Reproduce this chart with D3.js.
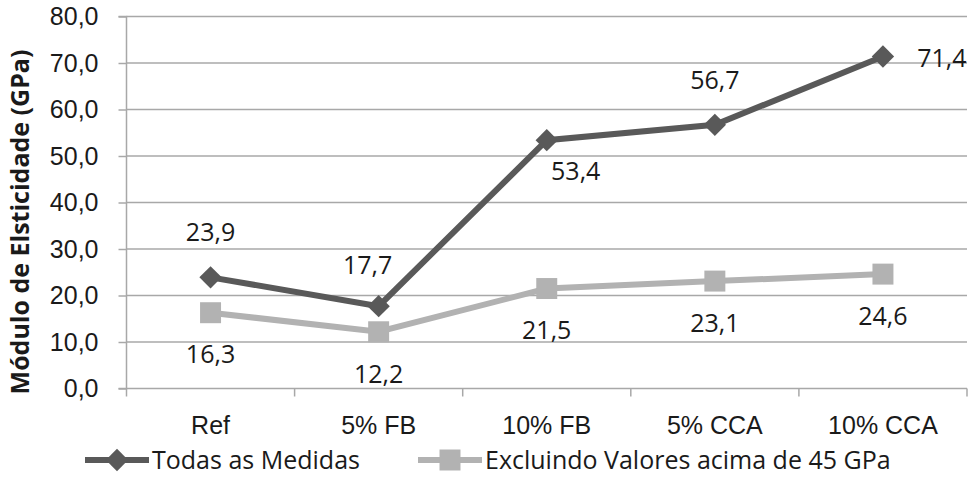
<!DOCTYPE html>
<html>
<head>
<meta charset="utf-8">
<script src="https://cdn.jsdelivr.net/npm/d3@7"></script>
<style>
  body { margin: 0; background: #fff; }
  svg { display: block; font-family: "Open Sans", "Liberation Sans", sans-serif; }
  .tick text { fill: #1a1a1a; }
</style>
</head>
<body>
<div id="chart"></div>
<script>
// categories and series
const categories = ['Ref', '5% FB', '10% FB', '5% CCA', '10% CCA'];
const todasMedidas = [23.9, 17.7, 53.4, 56.7, 71.4];
const excluindo = [16.3, 12.2, 21.5, 23.1, 24.6];
const yTicks = [0, 10, 20, 30, 40, 50, 60, 70, 80];
// where each data label sits relative to its point
const labelTodas = ['above', 'aboveLeft', 'belowRight', 'above', 'right'];
const labelExcl = ['below', 'below', 'below', 'below', 'below'];

const W = 969, H = 478;
const margin = { top: 16.5, right: 2, bottom: 89.5, left: 126.5 };
const width = W - margin.left - margin.right;
const height = H - margin.top - margin.bottom;

const darkColor = '#595959';
const lightColor = '#b2b2b2';
const gridColor = '#a8a8a8';
const textColor = '#1a1a1a';

const svg = d3.select('#chart').append('svg')
    .attr('width', W)
    .attr('height', H);

const g = svg.append('g')
    .attr('transform', `translate(${margin.left},${margin.top})`);

const x = d3.scaleBand().domain(categories).range([0, width]);
const y = d3.scaleLinear().domain([0, 80]).range([height, 0]);

// gridlines
g.selectAll('.grid')
    .data(yTicks.filter(d => d > 0))
    .enter().append('line')
    .attr('class', 'grid')
    .attr('x1', 0).attr('x2', width)
    .attr('y1', d => y(d)).attr('y2', d => y(d))
    .attr('stroke', gridColor)
    .attr('stroke-width', 1.5);

// y axis
const yAxis = g.append('g')
    .call(d3.axisLeft(y).tickValues(yTicks).tickSize(8).tickPadding(20)
        .tickFormat(d => d3.format('.1f')(d).replace('.', ',')));
yAxis.selectAll('text').style('font-size', '25px');

// x axis
const xAxis = g.append('g')
    .attr('transform', `translate(0,${height})`)
    .call(d3.axisBottom(x).tickSize(0).tickPadding(28));
xAxis.selectAll('text').style('font-size', '25px');
xAxis.selectAll('.tick line').remove();
const bounds = categories.map(c => x(c)).concat([width]);
xAxis.selectAll('.bound')
    .data(bounds)
    .enter().append('line')
    .attr('class', 'bound')
    .attr('x1', d => d).attr('x2', d => d)
    .attr('y1', 0).attr('y2', 8)
    .attr('stroke', gridColor)
    .attr('stroke-width', 1.5);

[yAxis, xAxis].forEach(a => {
    a.selectAll('.domain').attr('stroke', gridColor).attr('stroke-width', 1.5);
    a.selectAll('.tick line').attr('stroke', gridColor).attr('stroke-width', 1.5);
});
yAxis.select('.domain').attr('d', `M-8,0H0V${height}H-8`);
xAxis.select('.domain').attr('d', `M0,0H${width}`);

const cx = c => x(c) + x.bandwidth() / 2;

const line = d3.line()
    .x((d, i) => cx(categories[i]))
    .y(d => y(d));

const diamond = d3.symbol().type(d3.symbolSquare).size(250);
const square = d3.symbol().type(d3.symbolSquare).size(440);

function drawSeries(values, color, marker, rotate) {
    g.append('path')
        .datum(values)
        .attr('d', line)
        .attr('fill', 'none')
        .attr('stroke', color)
        .attr('stroke-width', 6);
    g.selectAll(null)
        .data(values)
        .enter().append('path')
        .attr('d', marker)
        .attr('fill', color)
        .attr('transform', (d, i) => `translate(${cx(categories[i])},${y(d)}) rotate(${rotate})`);
}

drawSeries(excluindo, lightColor, square, 0);
drawSeries(todasMedidas, darkColor, diamond, 45);

const offsets = {
    above: [0, -45],
    below: [0, 42],
    aboveLeft: [-11, -41],
    belowRight: [29, 31],
    right: [59, 2]
};

function drawLabels(values, pos) {
    g.selectAll(null)
        .data(values)
        .enter().append('text')
        .attr('x', (d, i) => cx(categories[i]) + offsets[pos[i]][0])
        .attr('y', (d, i) => y(d) + offsets[pos[i]][1])
        .attr('dy', '0.35em')
        .attr('text-anchor', 'middle')
        .style('font-size', '25px')
        .attr('fill', textColor)
        .text(d => d3.format('.1f')(d).replace('.', ','));
}
drawLabels(todasMedidas, labelTodas);
drawLabels(excluindo, labelExcl);

// y title
svg.append('text')
    .attr('transform', 'translate(20,222) rotate(-90)')
    .attr('text-anchor', 'middle')
    .attr('dy', '0.35em')
    .style('font-size', '25px')
    .style('font-weight', 'bold')
    .attr('fill', textColor)
    .text('Módulo de Elsticidade (GPa)');

// legend
const legendItems = [
    { name: 'Todas as Medidas', color: darkColor, marker: diamond, rotate: 45, x: 85 },
    { name: 'Excluindo Valores acima de 45 GPa', color: lightColor, marker: square, rotate: 0, x: 418 }
];
const legend = svg.append('g').attr('transform', 'translate(0,460)');
legendItems.forEach(it => {
    const lg = legend.append('g').attr('transform', `translate(${it.x},0)`);
    lg.append('line')
        .attr('x1', 0).attr('x2', 64)
        .attr('stroke', it.color).attr('stroke-width', 6);
    lg.append('path')
        .attr('d', it.marker)
        .attr('fill', it.color)
        .attr('transform', `translate(32,0) rotate(${it.rotate})`);
    lg.append('text')
        .attr('x', 67)
        .attr('dy', '0.35em')
        .style('font-size', '25px')
        .attr('fill', textColor)
        .text(it.name);
});
</script>
</body>
</html>
